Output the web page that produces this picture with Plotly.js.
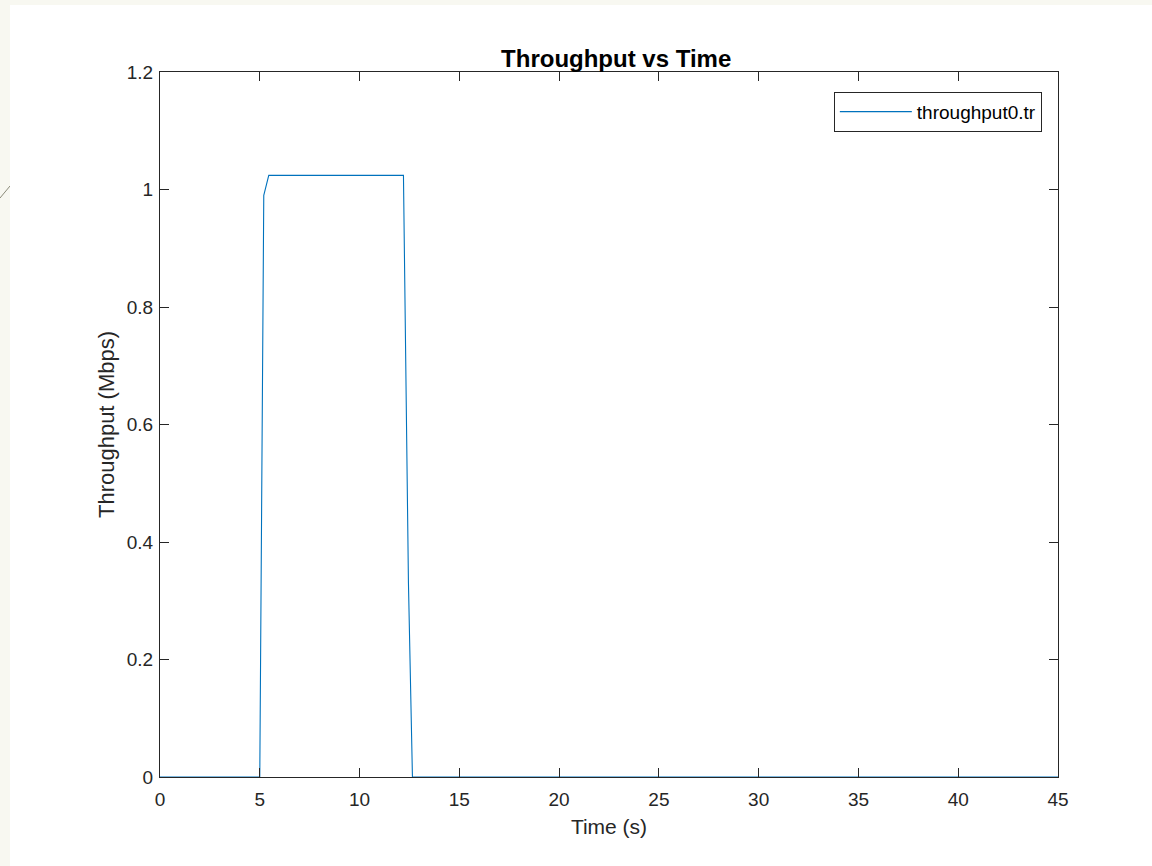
<!DOCTYPE html>
<html>
<head>
<meta charset="utf-8">
<script src="https://cdn.plot.ly/plotly-3.0.1.min.js"></script>
<style>
  html, body { margin: 0; padding: 0; width: 1152px; height: 866px; background: #f8f8f1; overflow: hidden; }
  #chart { position: absolute; left: 10px; top: 5px; width: 1142px; height: 861px; }
  #deco { position: absolute; left: 0; top: 180px; }
</style>
</head>
<body>
<svg id="deco" width="12" height="24"><line x1="0" y1="18" x2="10" y2="6" stroke="#8a8a78" stroke-width="1"/></svg>
<div id="chart"></div>
<script>
// Data
const timeS = [0, 5.0, 5.2, 5.45, 12.2, 12.45, 12.65, 45];
const throughputMbps = [0, 0, 0.99, 1.024, 1.024, 0.33, 0, 0];
const seriesName = 'throughput0.tr';
const xTicks = [0, 5, 10, 15, 20, 25, 30, 35, 40, 45];
const yTicks = [0, 0.2, 0.4, 0.6, 0.8, 1, 1.2];
const yTickLabels = ['0', '0.2', '0.4', '0.6', '0.8', '1', '1.2'];

const fontFam = 'Liberation Sans, Arial, Helvetica, sans-serif';
const axisColor = '#262626';

const trace = {
  x: timeS,
  y: throughputMbps,
  type: 'scatter',
  mode: 'lines',
  name: seriesName,
  line: { color: '#0072BD', width: 1.1 },
  showlegend: true
};

const layout = {
  width: 1142,
  height: 861,
  paper_bgcolor: '#ffffff',
  plot_bgcolor: '#ffffff',
  margin: { l: 150, r: 94, t: 67, b: 89 },
  font: { family: fontFam, color: axisColor, size: 19 },
  title: {
    text: '<b>Throughput vs Time</b>',
    font: { family: fontFam, size: 24, color: '#000000' },
    x: 0.508, xref: 'paper', xanchor: 'center',
    y: 1, yref: 'paper', yanchor: 'bottom',
    pad: { b: 5 }
  },
  xaxis: {
    range: [0, 45],
    tickvals: xTicks,
    ticktext: xTicks.map(String),
    ticks: 'inside', ticklen: 9, tickwidth: 1, tickcolor: axisColor,
    showline: true, linecolor: axisColor, linewidth: 1, mirror: 'ticks',
    showgrid: false, zeroline: false,
    ticklabelstandoff: 5,
    tickfont: { family: fontFam, size: 19, color: axisColor },
    title: { text: 'Time (s)', font: { family: fontFam, size: 21, color: axisColor }, standoff: 10 },
    automargin: false
  },
  yaxis: {
    range: [0, 1.2],
    tickvals: yTicks,
    ticktext: yTickLabels,
    ticks: 'inside', ticklen: 9, tickwidth: 1, tickcolor: axisColor,
    showline: true, linecolor: axisColor, linewidth: 1, mirror: 'ticks',
    showgrid: false, zeroline: false,
    ticklabelstandoff: 2,
    tickfont: { family: fontFam, size: 19, color: axisColor },
    title: { text: 'Throughput (Mbps)', font: { family: fontFam, size: 22, color: axisColor }, standoff: 6 },
    automargin: false
  },
  legend: {
    x: 0.982, xanchor: 'right', xref: 'paper',
    y: 0.972, yanchor: 'top', yref: 'paper',
    bgcolor: '#ffffff',
    bordercolor: axisColor, borderwidth: 1,
    itemwidth: 72,
    font: { family: fontFam, size: 19, color: '#000000' }
  },
  showlegend: true
};

Plotly.newPlot('chart', [trace], layout, { displayModeBar: false, staticPlot: true });
</script>
</body>
</html>
